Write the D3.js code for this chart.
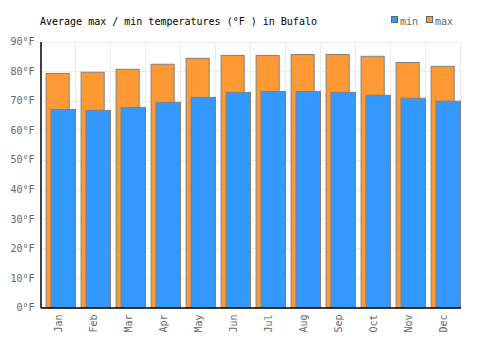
<!DOCTYPE html>
<html>
<head>
<meta charset="utf-8">
<script src="https://cdn.jsdelivr.net/npm/d3@7"></script>
<style>
  body { margin: 0; background: #fff; }
  svg text { font-family: "DejaVu Sans Mono", monospace; }
</style>
</head>
<body>
<div id="chart"></div>
<script>
// data
const months = ['Jan', 'Feb', 'Mar', 'Apr', 'May', 'Jun', 'Jul', 'Aug', 'Sep', 'Oct', 'Nov', 'Dec'];
const maxTemps = [79.2, 79.6, 80.6, 82.3, 84.3, 85.3, 85.3, 85.6, 85.6, 85.0, 82.9, 81.6];
const minTemps = [67.0, 66.7, 67.7, 69.4, 71.1, 72.8, 73.1, 73.1, 72.8, 71.8, 70.8, 69.8];
const yTicks = [0, 10, 20, 30, 40, 50, 60, 70, 80, 90];

const WIDTH = 500;
const HEIGHT = 350;
const MARGIN_TOP = 41.5;
const MARGIN_LEFT = 40.5;
const MARGIN_RIGHT = 39.5;
const MARGIN_BOTTOM = 42.5;

const $svg = d3.select('#chart').append('svg')
  .attr('width', WIDTH)
  .attr('height', HEIGHT);

const x = d3.scaleBand()
  .domain(months)
  .range([MARGIN_LEFT, WIDTH - MARGIN_RIGHT]);

const y = d3.scaleLinear()
  .domain([0, 90])
  .range([HEIGHT - MARGIN_BOTTOM, MARGIN_TOP]);

const bw = x.bandwidth();

// grid
const $grid = $svg.append('g').attr('class', 'grid');
$grid.selectAll('.hgrid')
  .data(yTicks)
  .join('line')
  .attr('x1', MARGIN_LEFT)
  .attr('x2', WIDTH - MARGIN_RIGHT)
  .attr('y1', d => Math.round(y(d)) + 0.5)
  .attr('y2', d => Math.round(y(d)) + 0.5)
  .attr('stroke', '#ececec');
$grid.selectAll('.vgrid')
  .data(months)
  .join('line')
  .attr('x1', d => x(d) + bw)
  .attr('x2', d => x(d) + bw)
  .attr('y1', MARGIN_TOP)
  .attr('y2', HEIGHT - MARGIN_BOTTOM)
  .attr('stroke', '#ececec');

// bars
const $vis = $svg.append('g').attr('class', 'g-vis');
$vis.selectAll('.max-bar')
  .data(months)
  .join('rect')
  .attr('class', 'max-bar')
  .attr('x', d => x(d) + bw * 0.16)
  .attr('width', bw * 0.66)
  .attr('y', (d, i) => y(maxTemps[i]))
  .attr('height', (d, i) => y(0) - y(maxTemps[i]))
  .attr('fill', '#ff9933')
  .attr('stroke', '#808080')
  .attr('stroke-width', 1);

$vis.selectAll('.min-bar')
  .data(months)
  .join('rect')
  .attr('class', 'min-bar')
  .attr('x', d => x(d) + bw * 0.3)
  .attr('width', bw * 0.7)
  .attr('y', (d, i) => y(minTemps[i]))
  .attr('height', (d, i) => y(0) - y(minTemps[i]))
  .attr('fill', '#3399ff')
  .attr('stroke', '#808080')
  .attr('stroke-width', 1);

// axes
const $yAxis = $svg.append('g')
  .attr('transform', `translate(${MARGIN_LEFT},0)`)
  .call(d3.axisLeft(y).tickValues(yTicks).tickSize(0).tickPadding(6).tickFormat(d => d + '°F'));
$yAxis.select('.domain').attr('stroke', '#000').attr('stroke-width', 1.5);
$yAxis.selectAll('text').attr('fill', '#666').style('font-size', '10px')
  .style('font-family', '"DejaVu Sans Mono", monospace');

const $xAxis = $svg.append('g')
  .attr('transform', `translate(0,${HEIGHT - MARGIN_BOTTOM})`)
  .call(d3.axisBottom(x).tickSize(0).tickSizeOuter(0));
$xAxis.select('.domain').attr('stroke', '#000').attr('stroke-width', 1.5);
$xAxis.selectAll('text')
  .attr('fill', '#666')
  .style('font-size', '10px')
  .style('font-family', '"DejaVu Sans Mono", monospace')
  .attr('transform', 'rotate(-90)')
  .attr('text-anchor', 'end')
  .attr('x', -7)
  .attr('y', 0)
  .attr('dy', '0.35em');

// title
$svg.append('text')
  .attr('x', 40)
  .attr('y', 25)
  .style('font-size', '10px')
  .attr('fill', '#000')
  .text('Average max / min temperatures (°F ) in Bufalo');

// legend
const legendItems = [{ name: 'min', color: '#3399ff', x: 391 }, { name: 'max', color: '#ff9933', x: 426 }];
const $legend = $svg.append('g').attr('class', 'legend');
$legend.selectAll('rect')
  .data(legendItems)
  .join('rect')
  .attr('x', d => d.x + 0.5)
  .attr('y', 16.5)
  .attr('width', 6)
  .attr('height', 6)
  .attr('fill', d => d.color)
  .attr('stroke', '#666');
$legend.selectAll('text')
  .data(legendItems)
  .join('text')
  .attr('x', d => d.x + 9)
  .attr('y', 25)
  .style('font-size', '10px')
  .attr('fill', '#666')
  .text(d => d.name);
</script>
</body>
</html>
